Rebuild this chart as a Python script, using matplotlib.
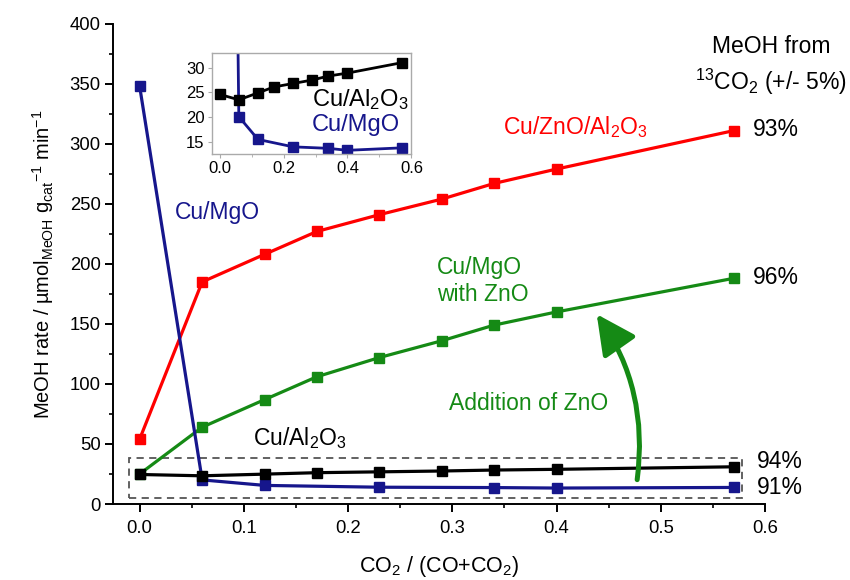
import numpy as np
import matplotlib
matplotlib.use('Agg')
import matplotlib.pyplot as plt
from matplotlib.patches import Rectangle, FancyArrowPatch
from matplotlib.ticker import MultipleLocator

plt.rcParams['font.family'] = ['Liberation Sans', 'DejaVu Sans']
plt.rcParams['mathtext.fontset'] = 'custom'
plt.rcParams['mathtext.rm'] = 'Liberation Sans'
plt.rcParams['mathtext.it'] = 'Liberation Sans:italic'
plt.rcParams['mathtext.default'] = 'regular'

# CO2 / (CO+CO2)
x_full = [0.0, 0.06, 0.12, 0.17, 0.23, 0.29, 0.34, 0.40, 0.57]
x_mgo = [0.0, 0.06, 0.12, 0.23, 0.34, 0.40, 0.57]

# MeOH rate, umol_MeOH / g_cat / min
cu_zno_al2o3 = [54, 185, 208, 227, 241, 254, 267, 279, 311]
cu_mgo_zno = [25, 64, 87, 106, 122, 136, 149, 160, 188]
cu_al2o3 = [24.6, 23.5, 24.9, 26.1, 26.8, 27.5, 28.3, 28.9, 31.0]
cu_mgo = [348, 20.1, 15.5, 14.0, 13.7, 13.3, 13.8]

c_red = '#ff0000'
c_green = '#158a15'
c_navy = '#16168c'
c_black = '#000000'
fs = 16.5

fig = plt.figure(figsize=(8.5, 5.8), dpi=100)
ax = fig.add_axes([0.133, 0.131, 0.767, 0.828])

line_kw = dict(marker='s', markersize=7.5, linewidth=2.3, clip_on=False)
ax.plot(x_full, cu_zno_al2o3, color=c_red, zorder=3, **line_kw)
ax.plot(x_full, cu_mgo_zno, color=c_green, zorder=3, **line_kw)
ax.plot(x_mgo, cu_mgo, color=c_navy, zorder=3, **line_kw)
ax.plot(x_full, cu_al2o3, color=c_black, zorder=4, **line_kw)

ax.set_xlim(-0.0255, 0.6)
ax.set_ylim(0, 400)
ax.spines['top'].set_visible(False)
ax.spines['right'].set_visible(False)
for s in ['left', 'bottom']:
    ax.spines[s].set_linewidth(1.4)
ax.xaxis.set_major_locator(MultipleLocator(0.1))
ax.xaxis.set_minor_locator(MultipleLocator(0.05))
ax.yaxis.set_major_locator(MultipleLocator(50))
ax.yaxis.set_minor_locator(MultipleLocator(25))
ax.xaxis.set_major_formatter(plt.FuncFormatter(lambda v, p: '%.1f' % v))
ax.tick_params(which='major', direction='out', length=5.5, width=1.4, labelsize=13.3)
ax.tick_params(which='minor', direction='out', length=3, width=1.2)
ax.tick_params(axis='x', pad=6)

ax.set_xlabel('CO$_2$ / (CO+CO$_2$)', fontsize=15.5, labelpad=12)
ax.set_ylabel('MeOH rate / \u00b5mol$_{MeOH}$ g$_{cat}$$^{-1}$ min$^{-1}$',
              fontsize=14.5, labelpad=10)

# dashed box around low-rate catalysts
ax.add_patch(Rectangle((-0.0105, 4.8), 0.588, 33.2, fill=False, linestyle=(0, (4, 3)),
                       edgecolor='#555555', linewidth=1.3, zorder=2))

# labels
ax.text(0.418, 314, 'Cu/ZnO/Al$_2$O$_3$', color=c_red, fontsize=fs, ha='center', va='center')
ax.text(0.034, 243, 'Cu/MgO', color=c_navy, fontsize=fs, ha='left', va='center')
ax.text(0.285, 186, 'Cu/MgO\nwith ZnO', color=c_green, fontsize=fs, ha='left', va='center',
        linespacing=1.2)
ax.text(0.297, 84, 'Addition of ZnO', color=c_green, fontsize=fs, ha='left', va='center')
ax.text(0.109, 55, 'Cu/Al$_2$O$_3$', color=c_black, fontsize=fs, ha='left', va='center')

ax.text(0.588, 312, '93%', fontsize=fs, ha='left', va='center')
ax.text(0.588, 189, '96%', fontsize=fs, ha='left', va='center')
ax.text(0.592, 35, '94%', fontsize=fs, ha='left', va='center')
ax.text(0.592, 13.5, '91%', fontsize=fs, ha='left', va='center')
ax.text(0.606, 381, 'MeOH from', fontsize=fs, ha='center', va='center')
ax.text(0.606, 352, '$^{13}$CO$_2$ (+/- 5%)', fontsize=fs, ha='center', va='center')

arrow = FancyArrowPatch((0.477, 18), (0.437, 160), connectionstyle='arc3,rad=0.2',
                        arrowstyle='-|>,head_length=1.2,head_width=0.6',
                        mutation_scale=20, linewidth=3.6, color=c_green, zorder=5)
ax.add_patch(arrow)

# inset zoom on the low-rate catalysts
ins = fig.add_axes([0.249, 0.734, 0.235, 0.175])
ins.plot(x_mgo, cu_mgo, color=c_navy, marker='s', markersize=6.5, linewidth=2.0)
ins.plot(x_full, cu_al2o3, color=c_black, marker='s', markersize=6.5, linewidth=2.0)
ins.set_xlim(-0.025, 0.6)
ins.set_ylim(12.5, 33)
for s in ins.spines.values():
    s.set_edgecolor('#aaaaaa')
    s.set_linewidth(1.0)
ins.xaxis.set_major_locator(MultipleLocator(0.2))
ins.xaxis.set_minor_locator(MultipleLocator(0.1))
ins.yaxis.set_major_locator(MultipleLocator(5))
ins.xaxis.set_major_formatter(plt.FuncFormatter(lambda v, p: '%.1f' % v))
ins.tick_params(which='both', direction='out', labelsize=12, length=3, color='#aaaaaa', pad=2)
ins.tick_params(which='minor', length=2)
ins.text(0.288, 23.5, 'Cu/Al$_2$O$_3$', color=c_black, fontsize=17, ha='left', va='center',
         clip_on=False)
ins.text(0.288, 18.4, 'Cu/MgO', color=c_navy, fontsize=17, ha='left', va='center')

fig.savefig('out.png', dpi=100)
